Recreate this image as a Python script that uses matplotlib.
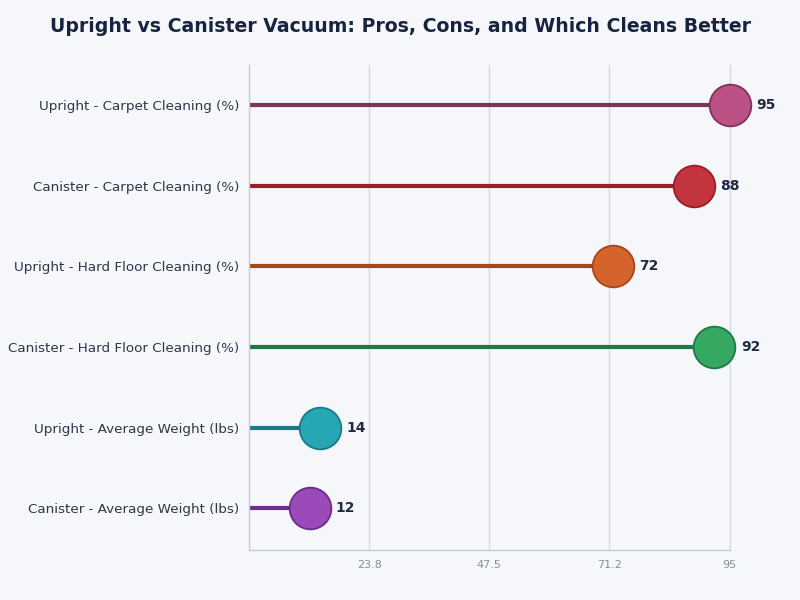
import numpy as np
import matplotlib.pyplot as plt

# data, top row first
labels = [
    "Upright - Carpet Cleaning (%)",
    "Canister - Carpet Cleaning (%)",
    "Upright - Hard Floor Cleaning (%)",
    "Canister - Hard Floor Cleaning (%)",
    "Upright - Average Weight (lbs)",
    "Canister - Average Weight (lbs)",
]
values = [95, 88, 72, 92, 14, 12]
dot_colors = ["#bc5185", "#c4343f", "#d4632c", "#35a862", "#27a6b4", "#9b4bb9"]
line_colors = ["#7e3358", "#9a1e26", "#a8461a", "#1d7a45", "#1b7a85", "#6c2d8c"]
xticks = [23.8, 47.5, 71.2, 95]

bg = "#f5f7fb"
fig = plt.figure(figsize=(8, 6), dpi=100, facecolor=bg)
ax = fig.add_axes([0.311, 0.083, 0.601, 0.809])
ax.set_facecolor(bg)

y = np.arange(len(labels))[::-1]
for yi, v, dc, lc in zip(y, values, dot_colors, line_colors):
    ax.plot([0, v], [yi, yi], color=lc, lw=3, solid_capstyle="butt", zorder=2)
    ax.plot(v, yi, "o", ms=30, mfc=dc, mec=lc, mew=1.3, zorder=3, clip_on=False)
    ax.annotate(str(v), (v, yi), xytext=(19, 0), textcoords="offset points",
                va="center", ha="left", fontsize=10,
                fontweight="bold", color="#1f2a44")

ax.set_xlim(0, 95)
ax.set_ylim(-0.52, 5.5)
ax.set_yticks(y)
ax.set_yticklabels(labels, fontsize=9.7, color="#2d3748")
ax.set_xticks(xticks)
ax.set_xticklabels([f"{t:g}" for t in xticks], fontsize=8, color="#858e9c")
ax.tick_params(length=0, pad=7)
ax.grid(axis="x", color="#d5d9e0", lw=1)
ax.set_axisbelow(True)
ax.spines["top"].set_visible(False)
ax.spines["right"].set_color("#d5d9e0")
for s in ["left", "bottom"]:
    ax.spines[s].set_color("#c5cad3")
    ax.spines[s].set_linewidth(1)

fig.text(0.5, 0.955, "Upright vs Canister Vacuum: Pros, Cons, and Which Cleans Better",
         ha="center", va="center", fontsize=13.6, fontweight="bold", color="#172340")

fig.savefig("out.png", dpi=100, facecolor=bg)
